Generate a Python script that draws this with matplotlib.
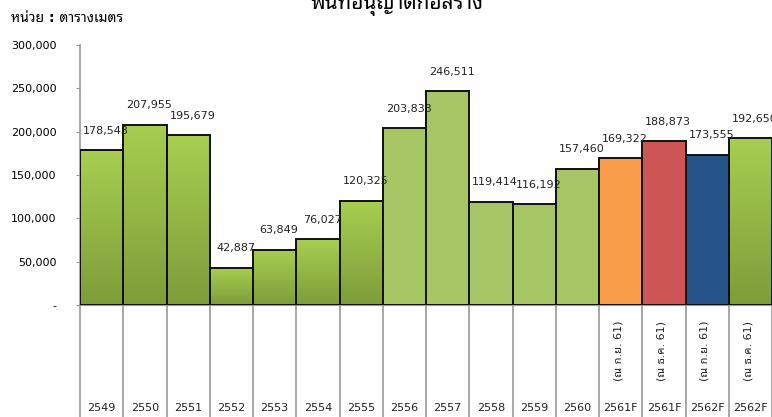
import numpy as np
import matplotlib
matplotlib.use("Agg")
import matplotlib.pyplot as plt
from matplotlib.colors import LinearSegmentedColormap
from matplotlib.patches import Rectangle

years = ["2549", "2550", "2551", "2552", "2553", "2554", "2555", "2556",
         "2557", "2558", "2559", "2560", "2561F", "2561F", "2562F", "2562F"]
notes = [""] * 12 + ["(ณ ก.ย. 61)", "(ณ ธ.ค. 61)", "(ณ ก.ย. 61)", "(ณ ธ.ค. 61)"]
values = [178543, 207955, 195679, 42887, 63849, 76027, 120325, 203833,
          246511, 119414, 116192, 157460, 169322, 188873, 173555, 192650]
styles = ["grad"] * 7 + ["flat"] * 5 + ["orange", "red", "blue", "grad"]
yticks = [0, 50000, 100000, 150000, 200000, 250000, 300000]
ytick_labels = ["-", "50,000", "100,000", "150,000", "200,000", "250,000", "300,000"]

# DejaVu for digits, a looped Thai face for the Thai text
plt.rcParams['font.family'] = ['DejaVu Sans', 'Noto Sans Thai Looped', 'Loma']

flat_colors = {"flat": "#a6c564", "orange": "#f99d4a", "red": "#cd5655", "blue": "#265389"}
green_grad = LinearSegmentedColormap.from_list("g", ["#7e9d3a", "#a7ce50"])

fig = plt.figure(figsize=(7.72, 4.17), dpi=100)
ax = fig.add_axes([80 / 772, 1 - 305 / 417, 692 / 772, 260 / 417])

for i, (v, s) in enumerate(zip(values, styles)):
    if s == "grad":
        grad = np.linspace(0, 1, 100).reshape(-1, 1)
        im = ax.imshow(grad, extent=[i, i + 1, 0, v], origin="lower",
                       cmap=green_grad, aspect="auto", zorder=2)
        im.set_clip_path(Rectangle((i, 0), 1, v, transform=ax.transData))
        ax.bar(i + 0.5, v, width=1, facecolor="none", edgecolor="#111111",
               linewidth=1.4, zorder=3)
    else:
        ax.bar(i + 0.5, v, width=1, color=flat_colors[s], edgecolor="#111111",
               linewidth=1.4, zorder=3)
    ax.annotate(f"{v:,}", (i + 0.5, v), xytext=(3, 14), textcoords="offset points",
                ha="center", va="center", fontsize=8, color="#222222", zorder=4)

ax.set_xlim(0, len(values))
ax.set_ylim(0, 300000)
ax.set_yticks(yticks)
ax.set_yticklabels(ytick_labels, fontsize=8)
ax.set_xticks([])
ax.tick_params(axis="y", length=3, color="#999999", pad=14)
for sp in ["top", "right"]:
    ax.spines[sp].set_visible(False)
ax.spines["left"].set_color("#999999")
ax.spines["bottom"].set_color("#999999")
ax.spines["left"].set_linewidth(1.2)

# category table below the axis
trans = ax.get_xaxis_transform()
for i in range(len(values) + 1):
    ax.plot([i, i], [0, -0.5], color="#999999", lw=1.2, transform=trans,
            clip_on=False)
for i, (yr, nt) in enumerate(zip(years, notes)):
    ax.text(i + 0.5, -0.395, yr, transform=trans, ha="center", va="center",
            fontsize=8, color="#222222")
    if nt:
        ax.text(i + 0.45, -0.177, nt, transform=trans, ha="center", va="center",
                rotation=90, fontsize=8, color="#222222")

fig.text(0.515, 1 - 3 / 417, "พื้นที่อนุญาตก่อสร้าง", ha="center", va="center",
         fontsize=15, fontweight="bold")
fig.text(11 / 772, 1 - 18 / 417, "หน่วย : ตารางเมตร", ha="left", va="center",
         fontsize=10, fontweight="bold")

fig.savefig("out.png", dpi=100)
